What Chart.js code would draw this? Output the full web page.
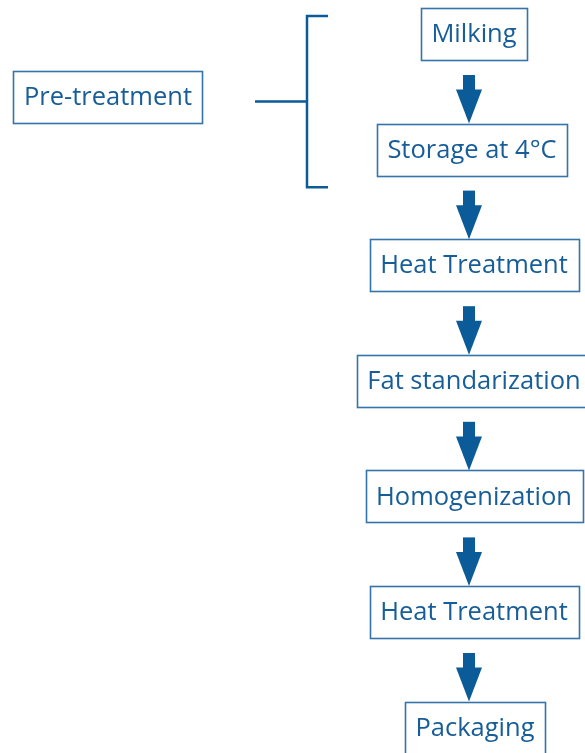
<!DOCTYPE html>
<html lang="en">
<head>
  <meta charset="UTF-8" />
  <title>Milk processing flow</title>
  <script src="https://cdn.jsdelivr.net/npm/chart.js"></script>
  <style>
    body { margin: 0; background: #fff; }
    #flow { display: block; }
  </style>
</head>
<body>
<canvas id="flow" width="585" height="753"></canvas>
<script>
// flow steps, top to bottom
const steps = ["Milking", "Storage at 4°C", "Heat Treatment", "Fat standarization",
  "Homogenization", "Heat Treatment", "Packaging"];
const stepRow = [0, 1, 2, 3, 4, 5, 6];
const stepCol = [474, 472, 474, 474, 474, 474, 475];

// side label and the steps it groups
const groupLabel = ["Pre-treatment"];
const groupCol = [108];
const groupRow = [0.545];
const groupSpan = [-0.156, 1.325]; // bracket ends, in rows

const BOX = "#3574aa";
const DARK = "#0a5b98";
const TEXT = "#175d98";
const FONT = "25.5px 'Open Sans', sans-serif";

const flowPlugin = {
  id: "flow",
  afterDatasetsDraw(chart) {
    const ctx = chart.ctx;
    const xs = chart.scales.x, ys = chart.scales.y;
    ctx.save();
    ctx.font = FONT;
    ctx.textAlign = "center";
    ctx.textBaseline = "middle";

    function box(label, cx, cy) {
      const w = ctx.measureText(label).width + 21;
      const h = 52;
      ctx.strokeStyle = BOX;
      ctx.lineWidth = 1.6;
      ctx.strokeRect(Math.round(cx - w / 2) + 0.5, Math.round(cy - h / 2) + 0.5, Math.round(w), h);
      ctx.fillStyle = TEXT;
      ctx.fillText(label, cx, cy + 1);
      return { top: cy - h / 2, bottom: cy + h / 2 };
    }

    const boxes = steps.map((s, i) => box(s, xs.getPixelForValue(stepCol[i]), ys.getPixelForValue(stepRow[i])));

    // arrows between steps
    ctx.fillStyle = DARK;
    for (let i = 0; i < boxes.length - 1; i++) {
      const ax = xs.getPixelForValue(stepCol[0]) - 5;
      const tip = boxes[i + 1].top;
      const top = boxes[i].bottom + 15;
      const headTop = tip - 34;
      ctx.fillRect(ax - 6, top, 12, headTop - top + 1);
      ctx.beginPath();
      ctx.moveTo(ax - 13, headTop);
      ctx.lineTo(ax + 13, headTop);
      ctx.lineTo(ax, tip);
      ctx.closePath();
      ctx.fill();
    }

    // side label with bracket
    groupLabel.forEach((g, i) => {
      const cy = ys.getPixelForValue(groupRow[i]);
      box(g, xs.getPixelForValue(groupCol[i]), cy);
      const bx = 307;
      const y1 = ys.getPixelForValue(groupSpan[0]);
      const y2 = ys.getPixelForValue(groupSpan[1]);
      const midY = (y1 + y2) / 2;
      ctx.strokeStyle = DARK;
      ctx.lineWidth = 2.5;
      ctx.beginPath();
      ctx.moveTo(255, midY);
      ctx.lineTo(bx, midY);
      ctx.moveTo(328, y1);
      ctx.lineTo(bx, y1);
      ctx.lineTo(bx, y2);
      ctx.lineTo(328, y2);
      ctx.stroke();
    });
    ctx.restore();
  }
};

const rowPx = 115.6;
const yMin = -34 / rowPx;

new Chart(document.getElementById("flow"), {
  type: "scatter",
  data: {
    datasets: [
      { data: steps.map((s, i) => ({ x: stepCol[i], y: stepRow[i] })), pointRadius: 0 },
      { data: groupLabel.map((g, i) => ({ x: groupCol[i], y: groupRow[i] })), pointRadius: 0 }
    ]
  },
  options: {
    responsive: false,
    animation: false,
    layout: { padding: 0 },
    plugins: { legend: { display: false }, tooltip: { enabled: false } },
    scales: {
      x: { type: "linear", min: 0, max: 585, display: false },
      y: { type: "linear", reverse: true, min: yMin, max: yMin + 753 / rowPx, display: false }
    }
  },
  plugins: [flowPlugin]
});
</script>
</body>
</html>
